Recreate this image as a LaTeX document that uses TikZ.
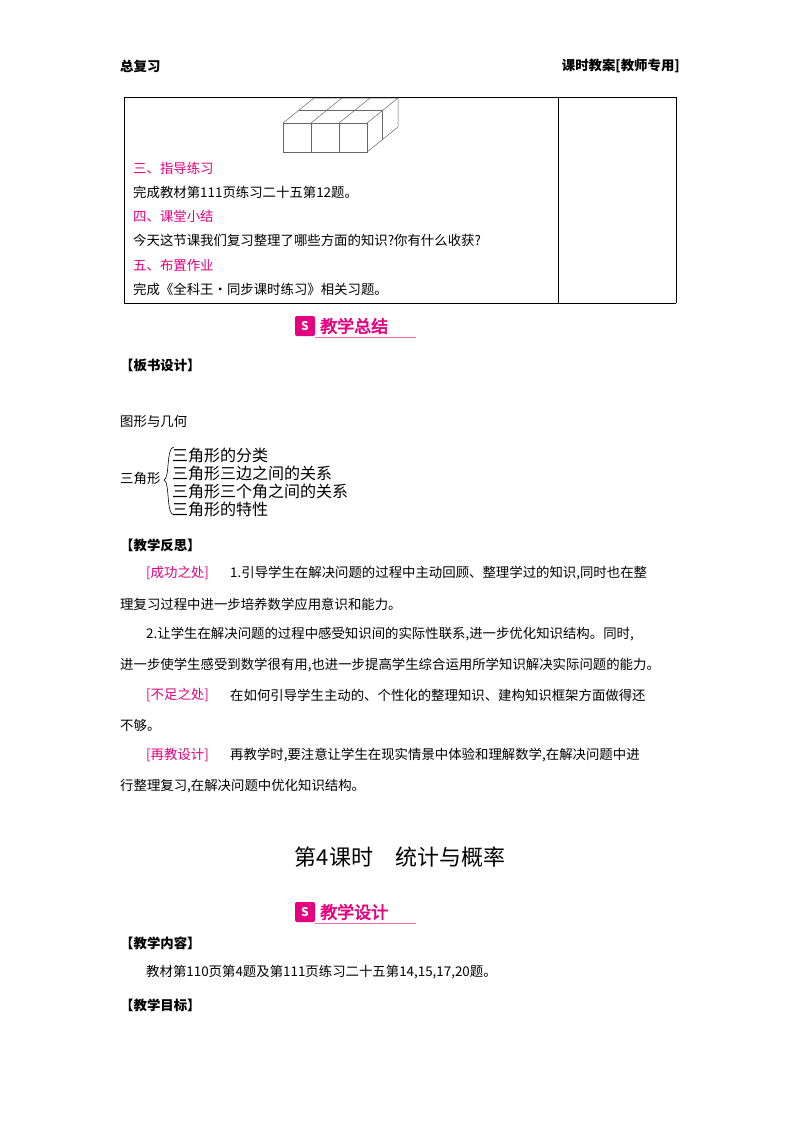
\documentclass[tikz,border=0pt]{standalone}
\usepackage{fontspec}
\setmainfont{Noto Sans CJK SC}
\newfontfamily\cjkb[FakeBold=3]{Noto Sans CJK SC}
\definecolor{pk}{HTML}{E4007F}
\begin{document}
\begin{tikzpicture}[x=1pt,y=-1pt,
  tx/.style={anchor=west,inner sep=0pt,font=\fontsize{13.4}{15}\selectfont},
  pt/.style={tx,text=pk},
  bd/.style={tx,font=\fontsize{13.4}{15}\selectfont\bfseries},
  br/.style={tx,font=\fontsize{16}{17}\selectfont},
  ban/.style={anchor=west,inner sep=0pt,text=pk,font=\fontsize{17}{18}\cjkb}]
\useasboundingbox (0,0) rectangle (800,1132);
% header
\node[bd] (h1) at (120,66) {总复习};
\node[bd,anchor=east] (h2) at (680,66) {课时教案[教师专用]};
% table
\draw[line width=1pt] (124,97) -- (676,97);
\draw[line width=0.8pt] (124,97) -- (124,303) (676,97) -- (676,303) (558,97) -- (558,303) (124,303) -- (676,303);
% cubes
\begin{scope}[draw=gray!80!black,line width=0.5pt]
\foreach \i in {0,1,2} \draw (283+28*\i,123) rectangle (311+28*\i,152);
\draw (283,123) -- (314,98) -- (398,98) -- (367,123);
\draw (311,123) -- (342,98) (339,123) -- (370,98);
\draw (298.5,110.5) -- (382.5,110.5);
\draw (367,152) -- (398,127) -- (398,98);
\draw (382.5,110.5) -- (382.5,139.5);
\end{scope}
\node[pt] (a1) at (133,168) {三、指导练习};
\node[tx] (a2) at (133,192) {完成教材第111页练习二十五第12题。};
\node[pt] (a3) at (133,216) {四、课堂小结};
\node[tx] (a4) at (133,240) {今天这节课我们复习整理了哪些方面的知识?你有什么收获?};
\node[pt] (a5) at (133,265) {五、布置作业};
\node[tx] (a6) at (133,289) {完成《全科王·同步课时练习》相关习题。};
% banner 1
\fill[pk,rounded corners=2pt] (295,316) rectangle (315,336);
\node[text=white,font=\bfseries\fontsize{12}{12}\selectfont] (i1) at (305,326) {S};
\node[ban] (b1) at (320,326) {教学总结};
\draw[pk!60,line width=0.8pt] (315,337) -- (416,337);
\node[bd] (k1) at (120,365) {【板书设计】};
\node[tx] (k2) at (120,421) {图形与几何};
\node[tx] (k3) at (120,478) {三角形};
\draw[line width=0.6pt] (174,447) .. controls (166,447) and (170,478) .. (164,480) .. controls (170,482) and (166,515) .. (174,515);
\node[br] (t1) at (172,455) {三角形的分类};
\node[br] (t2) at (172,473) {三角形三边之间的关系};
\node[br] (t3) at (172,491) {三角形三个角之间的关系};
\node[br] (t4) at (172,509) {三角形的特性};
\node[bd] (f0) at (120,545) {【教学反思】};
\node[pt] (f1) at (146,573) {[成功之处]};
\node[tx] (f2) at (230,573) {1.引导学生在解决问题的过程中主动回顾、整理学过的知识,同时也在整};
\node[tx] (f3) at (120,604) {理复习过程中进一步培养数学应用意识和能力。};
\node[tx] (f4) at (146,634) {2.让学生在解决问题的过程中感受知识间的实际性联系,进一步优化知识结构。同时,};
\node[tx] (f5) at (120,665) {进一步使学生感受到数学很有用,也进一步提高学生综合运用所学知识解决实际问题的能力。};
\node[pt] (f6) at (146,695) {[不足之处]};
\node[tx] (f7) at (230,695) {在如何引导学生主动的、个性化的整理知识、建构知识框架方面做得还};
\node[tx] (f8) at (120,725) {不够。};
\node[pt] (f9) at (146,755) {[再教设计]};
\node[tx] (f10) at (230,755) {再教学时,要注意让学生在现实情景中体验和理解数学,在解决问题中进};
\node[tx] (f11) at (120,786) {行整理复习,在解决问题中优化知识结构。};
\node[inner sep=0pt,font=\fontsize{22}{24}\selectfont] (ti) at (400,857) {第4课时\quad 统计与概率};
% banner 2
\fill[pk,rounded corners=2pt] (295,902) rectangle (315,922);
\node[text=white,font=\bfseries\fontsize{12}{12}\selectfont] (i2) at (305,912) {S};
\node[ban] (b2) at (320,912) {教学设计};
\draw[pk!60,line width=0.8pt] (315,923) -- (416,923);
\node[bd] (c1) at (120,943) {【教学内容】};
\node[tx] (c2) at (146,972) {教材第110页第4题及第111页练习二十五第14,15,17,20题。};
\node[bd] (c3) at (120,1005) {【教学目标】};
\end{tikzpicture}
\end{document}
